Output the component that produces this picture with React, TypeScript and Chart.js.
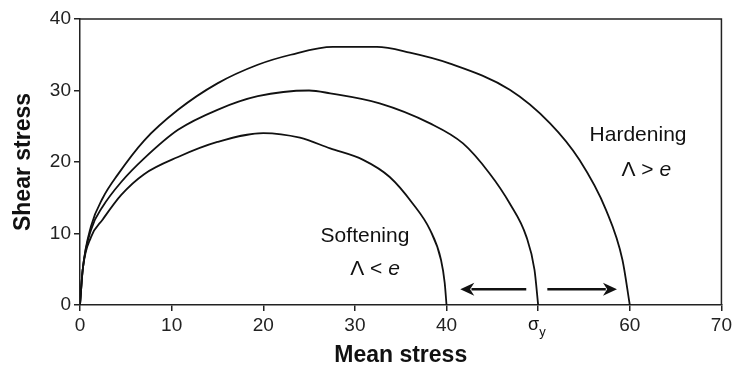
import React, { useEffect, useRef } from "react";
import { Chart, registerables } from "chart.js";

Chart.register(...registerables);

// ---- data ----
const xTicks = [0, 10, 20, 30, 40, 50, 60, 70];
const yTicks = [0, 10, 20, 30, 40];
const sigmaYTick = 50;

const softX = [0, 0.3, 1.2, 2.5, 4.5, 7, 10.7, 15, 20, 24, 27.3, 30.9, 33.8, 36.3, 38.2, 39.4, 39.8, 40];
const softY = [0, 5, 9.5, 12, 15.4, 18.3, 20.7, 22.8, 24.05, 23.4, 21.9, 20.3, 17.9, 14.2, 10.5, 6.3, 3.1, 0];

const yieldX = [0, 0.3, 1.2, 2.5, 4.5, 7, 10.7, 15, 19.4, 25, 27.3, 32.7, 38.2, 41.8, 44.7, 46.9, 48.7, 49.6, 50];
const yieldY = [0, 5, 10.5, 13.8, 17.2, 20.5, 24.5, 27.3, 29.2, 30, 29.6, 28.2, 25.4, 22.6, 18.4, 14.2, 9.6, 4.9, 0];

const hardX = [0, 0.3, 1.2, 2.5, 4.1, 7, 10.7, 15, 19.4, 23, 27.6, 32.4, 36, 40.3, 46.9, 51.3, 54.5, 57.4, 59.2, 60];
const hardY = [0, 5, 11, 15, 18.2, 23, 27.3, 31, 33.6, 35, 36.1, 36.1, 35.3, 33.8, 30.1, 25.4, 20.3, 13.3, 6.3, 0];

// annotations (data coordinates)
const labelTexts = ["Softening", "Hardening"];
const labelX = [31.1, 60.9];
const labelY = [9.6, 23.8];
const relTexts = ["Λ < ", "Λ > "];
const relX = [32.2, 61.8];
const relY = [5.0, 18.9];
const arrowFrom = [48.7, 51.0];
const arrowTo = [41.5, 58.6];
const arrowY = 2.2;

const FONT = "'Liberation Sans', Arial, sans-serif";

function pts(xs: number[], ys: number[]) {
  return xs.map((x, i) => ({ x, y: ys[i] }));
}

const overlay = {
  id: "overlay",
  afterDraw(chart: any) {
    const { ctx, chartArea: a, scales } = chart;
    const xs = scales.x, ys = scales.y;
    ctx.save();
    // top / right border
    ctx.strokeStyle = "#222";
    ctx.lineWidth = 1.5;
    ctx.beginPath();
    ctx.moveTo(a.left, a.top);
    ctx.lineTo(a.right, a.top);
    ctx.lineTo(a.right, a.bottom);
    ctx.stroke();

    // arrows
    ctx.strokeStyle = "#111";
    ctx.fillStyle = "#111";
    ctx.lineWidth = 2.5;
    for (let i = 0; i < arrowFrom.length; i++) {
      const x0 = xs.getPixelForValue(arrowFrom[i]);
      const x1 = xs.getPixelForValue(arrowTo[i]);
      const y = ys.getPixelForValue(arrowY);
      const dir = Math.sign(x1 - x0);
      const head = 14;
      ctx.beginPath();
      ctx.moveTo(x0, y);
      ctx.lineTo(x1 - dir * head * 0.8, y);
      ctx.stroke();
      ctx.beginPath();
      ctx.moveTo(x1, y);
      ctx.lineTo(x1 - dir * head, y - 6.5);
      ctx.lineTo(x1 - dir * head * 0.7, y);
      ctx.lineTo(x1 - dir * head, y + 6.5);
      ctx.closePath();
      ctx.fill();
    }

    // texts
    ctx.fillStyle = "#111";
    ctx.textBaseline = "middle";
    ctx.textAlign = "center";
    ctx.font = `21px ${FONT}`;
    for (let i = 0; i < labelTexts.length; i++) {
      ctx.fillText(labelTexts[i], xs.getPixelForValue(labelX[i]), ys.getPixelForValue(labelY[i]));
    }
    for (let i = 0; i < relTexts.length; i++) {
      ctx.font = `21px ${FONT}`;
      const w1 = ctx.measureText(relTexts[i]).width;
      ctx.font = `italic 21px ${FONT}`;
      const w2 = ctx.measureText("e").width;
      const cx = xs.getPixelForValue(relX[i]);
      const cy = ys.getPixelForValue(relY[i]);
      const start = cx - (w1 + w2) / 2;
      ctx.textAlign = "left";
      ctx.font = `21px ${FONT}`;
      ctx.fillText(relTexts[i], start, cy);
      ctx.font = `italic 21px ${FONT}`;
      ctx.fillText("e", start + w1, cy);
      ctx.textAlign = "center";
    }

    // sigma_y tick label
    const sx = xs.getPixelForValue(sigmaYTick);
    const sy = a.bottom + 20;
    ctx.textAlign = "right";
    ctx.font = `18px ${FONT}`;
    ctx.fillText("σ", sx + 1, sy);
    ctx.textAlign = "left";
    ctx.font = `13px ${FONT}`;
    ctx.fillText("y", sx + 1, sy + 7);
    ctx.restore();
  },
};

export default function App() {
  const ref = useRef<HTMLCanvasElement | null>(null);
  useEffect(() => {
    document.body.style.margin = "0";
    const ds = (label: string, xs: number[], ys: number[]) => ({
      label,
      data: pts(xs, ys),
      showLine: true,
      borderColor: "#111",
      borderWidth: 1.8,
      pointRadius: 0,
      cubicInterpolationMode: "monotone",
      fill: false,
    });
    const chart = new Chart(ref.current!, {
      type: "scatter",
      data: {
        datasets: [
          ds("Softening", softX, softY),
          ds("Yield", yieldX, yieldY),
          ds("Hardening", hardX, hardY),
        ],
      },
      options: {
        responsive: false,
        animation: false,
        layout: { padding: { top: 19, right: 13, left: 0, bottom: 0 } },
        plugins: { legend: { display: false }, tooltip: { enabled: false } },
        scales: {
          x: {
            type: "linear",
            min: 0,
            max: 70,
            afterBuildTicks: (s: any) => {
              s.ticks = xTicks.map((v) => ({ value: v }));
            },
            afterFit: (s: any) => {
              s.height = 67;
            },
            ticks: {
              color: "#222",
              font: { family: FONT, size: 19 },
              padding: 3,
              maxRotation: 0,
              autoSkip: false,
              callback: (v: any) => (v === sigmaYTick ? "" : String(v)),
            },
            grid: { display: true, drawOnChartArea: false, drawTicks: true, tickLength: 6, color: "#222", lineWidth: 1.5 },
            border: { display: true, color: "#222", width: 1.5 },
            title: {
              display: true,
              text: "Mean stress",
              color: "#111",
              font: { family: FONT, size: 23, weight: "bold" },
              padding: { top: 0, bottom: 3 },
            },
          },
          y: {
            type: "linear",
            min: 0,
            max: 40,
            afterBuildTicks: (s: any) => {
              s.ticks = yTicks.map((v) => ({ value: v }));
            },
            afterFit: (s: any) => {
              s.width = 80;
            },
            ticks: {
              color: "#222",
              font: { family: FONT, size: 19 },
              padding: 3,
              autoSkip: false,
            },
            grid: { display: true, drawOnChartArea: false, drawTicks: true, tickLength: 6, color: "#222", lineWidth: 1.5 },
            border: { display: true, color: "#222", width: 1.5 },
            title: {
              display: true,
              text: "Shear stress",
              color: "#111",
              font: { family: FONT, size: 23, weight: "bold" },
              padding: { top: 10, bottom: 0 },
            },
          },
        },
      },
      plugins: [overlay],
    });
    return () => chart.destroy();
  }, []);
  return (
    <div style={{ width: 735, height: 372 }}>
      <canvas ref={ref} width={735} height={372} style={{ display: "block" }} />
    </div>
  );
}
